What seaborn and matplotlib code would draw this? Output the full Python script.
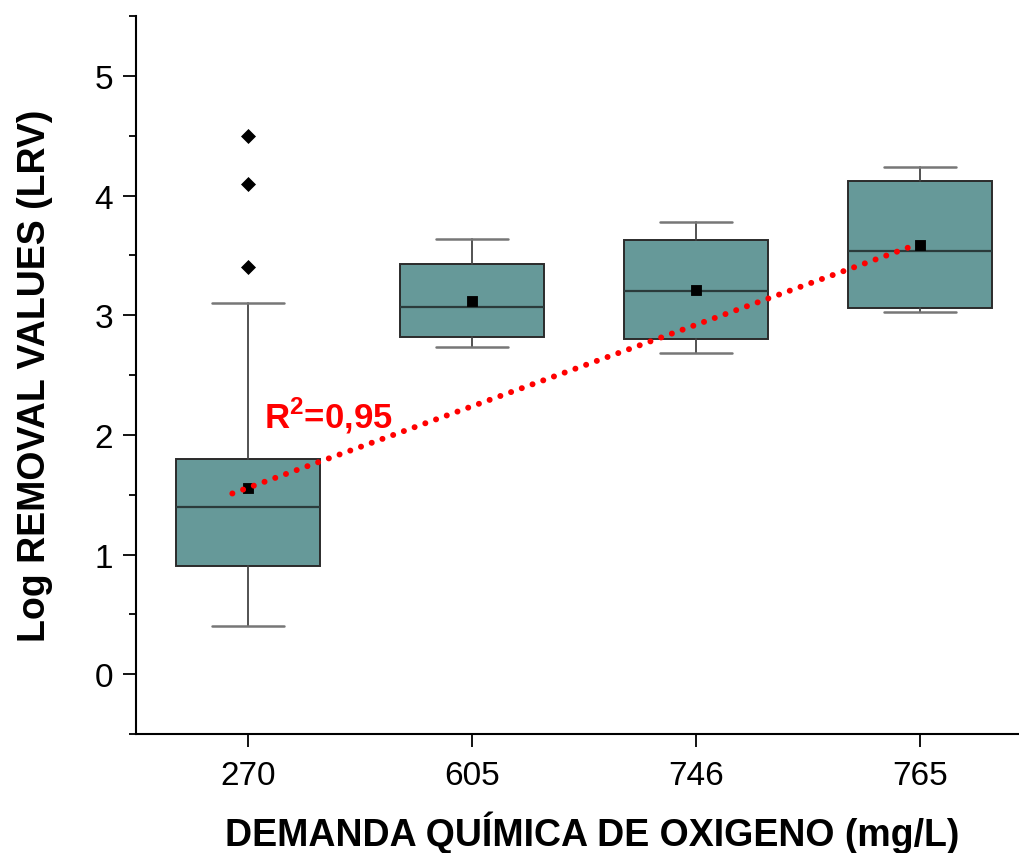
import numpy as np
import pandas as pd
import matplotlib
matplotlib.use("Agg")
import matplotlib.pyplot as plt
from matplotlib.ticker import MultipleLocator
import seaborn as sns

# ---- data ----
categories = ["270", "605", "746", "765"]
whisker_low = [0.40, 2.73, 2.68, 3.03]
q1 = [0.90, 2.82, 2.80, 3.06]
median = [1.40, 3.07, 3.20, 3.54]
q3 = [1.80, 3.43, 3.63, 4.12]
whisker_high = [3.10, 3.64, 3.78, 4.24]
means = [1.56, 3.12, 3.21, 3.59]
outliers = {"270": [3.40, 4.10, 4.50]}
trend_x = [-0.07, 2.97]
trend_y = [1.51, 3.58]
r2_label = r"R$^{\mathbf{2}}$=0,95"

box_color = "#669999"

sns.set_style("ticks")
plt.rcParams["font.family"] = ["Liberation Sans", "DejaVu Sans"]
plt.rcParams["text.color"] = "black"
plt.rcParams["axes.labelcolor"] = "black"
plt.rcParams["mathtext.fontset"] = "custom"
plt.rcParams["mathtext.rm"] = "Liberation Sans"
plt.rcParams["mathtext.bf"] = "Liberation Sans:bold"

fig = plt.figure(figsize=(10.19, 8.54), dpi=100)
ax = fig.add_axes([0.1335, 0.1393, 0.866, 0.8408])

positions = np.arange(len(categories))
stats = []
for i, c in enumerate(categories):
    stats.append(dict(label=c, whislo=whisker_low[i], q1=q1[i], med=median[i],
                      q3=q3[i], whishi=whisker_high[i], fliers=[]))
ax.bxp(stats, positions=positions, widths=0.64, patch_artist=True,
       showfliers=False, showmeans=False,
       boxprops=dict(facecolor=box_color, edgecolor="#2b2b2b", linewidth=1.4),
       medianprops=dict(color="#2b3b3b", linewidth=1.6),
       whiskerprops=dict(color="#444444", linewidth=1.3),
       capprops=dict(color="#777777", linewidth=1.8),
       capwidths=0.32)

# means
mean_df = pd.DataFrame({"x": positions, "y": means})
sns.scatterplot(data=mean_df, x="x", y="y", marker="s", s=60, color="black",
                edgecolor="black", ax=ax, zorder=5)

# outliers
ox, oy = [], []
for c, vals in outliers.items():
    for v in vals:
        ox.append(categories.index(c))
        oy.append(v)
out_df = pd.DataFrame({"x": ox, "y": oy})
sns.scatterplot(data=out_df, x="x", y="y", marker="D", s=50, color="black",
                edgecolor="black", ax=ax, zorder=5)

# trend line
trend_df = pd.DataFrame({"x": trend_x, "y": trend_y})
sns.lineplot(data=trend_df, x="x", y="y", color="#ff0000", linewidth=4.3, ax=ax, zorder=6)
ln = ax.lines[-1]
ln.set_linestyle((0, (0.01, 1.9)))
ln.set_dash_capstyle("round")

ax.text(0.07, 2.17, r2_label, color="#ff0000", fontsize=25, fontweight="bold",
        ha="left", va="center", transform=ax.transData)

ax.set_xlim(-0.5, 3.44)
ax.set_ylim(-0.5, 5.5)
ax.set_xticks(positions)
ax.set_xticklabels(categories)
ax.yaxis.set_major_locator(MultipleLocator(1))
ax.yaxis.set_minor_locator(MultipleLocator(0.5))
ax.set_yticks([0, 1, 2, 3, 4, 5])

for s in ["top", "right"]:
    ax.spines[s].set_visible(False)
for s in ["left", "bottom"]:
    ax.spines[s].set_linewidth(1.5)
    ax.spines[s].set_color("black")

ax.tick_params(axis="both", which="major", direction="out", length=9.5, width=1.3,
               labelsize=24, colors="black")
ax.tick_params(axis="y", which="major", pad=7)
ax.tick_params(axis="x", which="major", pad=9)
ax.tick_params(axis="y", which="minor", direction="out", length=5, width=1.3,
               colors="black")

ax.set_xlabel("DEMANDA QUÍMICA DE OXIGENO (mg/L)", fontsize=27, fontweight="bold",
              labelpad=14, color="black")
ax.xaxis.label.set_x(0.517)
ax.set_ylabel("Log REMOVAL VALUES (LRV)", fontsize=27, fontweight="bold",
              labelpad=30, color="black")

fig.savefig("out.png", dpi=100)
